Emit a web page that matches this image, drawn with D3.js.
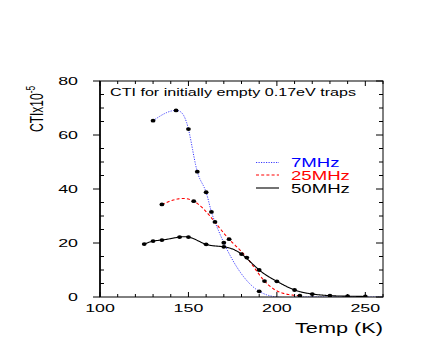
<!DOCTYPE html>
<html><head><meta charset="utf-8">
<script src="https://cdn.jsdelivr.net/npm/d3@7"></script>
<style>html,body{margin:0;padding:0;background:#fff;}svg{display:block;}</style>
</head><body>
<script>
// ---- data ----
const blueT = [130, 143, 150, 155, 160, 163, 165, 170, 190];
const blueV = [65.3, 69.1, 62.2, 46.4, 38.8, 31.5, 27.8, 20.1, 2.1];
const blueTailT = [200, 215, 230, 245, 260];
const blueTailV = [0, 0, 0, 0, 0];
const redT = [135, 153, 173, 183, 193, 213];
const redV = [34.3, 35.5, 21.4, 14.6, 5.9, 0.5];
const blackT = [125, 130, 135, 145, 150, 160, 170, 180, 190, 200, 210, 220, 230, 240, 250];
const blackV = [19.6, 20.7, 21.1, 22.2, 22.2, 19.5, 18.6, 15.9, 10.0, 5.8, 2.6, 1.1, 0.5, 0.3, 0.2];
const seriesNames = ["7MHz", "25MHz", "50MHz"];
const xMajor = [100, 150, 200, 250];
const yMajor = [0, 20, 40, 60, 80];
const title = "CTI for initially empty 0.17eV traps";
const xTitle = "Temp (K)";

const W = 436, H = 354, SX = 1.55;
const FONT = "'Liberation Sans', Arial, Helvetica, sans-serif";
const x = d3.scaleLinear().domain([100, 260]).range([100, 383]);
const y = d3.scaleLinear().domain([0, 80]).range([297, 81]);

const svg = d3.select("body").append("svg").attr("width", W).attr("height", H);
svg.append("defs").append("clipPath").attr("id", "clip")
  .append("rect").attr("x", 100).attr("y", 81).attr("width", 283).attr("height", 216);

// natural cubic spline y(x)
function spline(xs, ys) {
  const n = xs.length, h = [], a = [], l = [1], mu = [0], z = [0], c = new Array(n).fill(0), b = [], d = [];
  for (let i = 0; i < n - 1; i++) h[i] = xs[i + 1] - xs[i];
  for (let i = 1; i < n - 1; i++) a[i] = 3 / h[i] * (ys[i + 1] - ys[i]) - 3 / h[i - 1] * (ys[i] - ys[i - 1]);
  for (let i = 1; i < n - 1; i++) {
    l[i] = 2 * (xs[i + 1] - xs[i - 1]) - h[i - 1] * mu[i - 1];
    mu[i] = h[i] / l[i];
    z[i] = (a[i] - h[i - 1] * z[i - 1]) / l[i];
  }
  z[n - 1] = 0;
  for (let j = n - 2; j >= 0; j--) {
    c[j] = z[j] - mu[j] * c[j + 1];
    b[j] = (ys[j + 1] - ys[j]) / h[j] - h[j] * (c[j + 1] + 2 * c[j]) / 3;
    d[j] = (c[j + 1] - c[j]) / (3 * h[j]);
  }
  const pts = [];
  for (let j = 0; j < n - 1; j++) {
    const steps = Math.max(4, Math.round(h[j] * 3));
    for (let k = 0; k < steps; k++) {
      const t = h[j] * k / steps;
      pts.push([xs[j] + t, ys[j] + b[j] * t + c[j] * t * t + d[j] * t * t * t]);
    }
  }
  pts.push([xs[n - 1], ys[n - 1]]);
  return pts;
}

const line = d3.line().x(d => x(d[0])).y(d => y(d[1]));
const plot = svg.append("g").attr("clip-path", "url(#clip)");

const series = [
  {T: blueT.concat(blueTailT), V: blueV.concat(blueTailV), mT: blueT, mV: blueV, color: "#3a3aff", dash: "1.2,1.3", w: 1},
  {T: redT, V: redV, mT: redT, mV: redV, color: "#ff0000", dash: "3,2.2", w: 1.1},
  {T: blackT, V: blackV, mT: blackT, mV: blackV, color: "#000", dash: null, w: 1.1}
];
series.forEach(s => {
  plot.append("path").attr("d", line(spline(s.T, s.V)))
    .attr("fill", "none").attr("stroke", s.color).attr("stroke-width", s.w)
    .attr("stroke-dasharray", s.dash);
});
series.forEach(s => {
  plot.selectAll(null).data(s.mT.map((t, i) => [t, s.mV[i]])).enter().append("ellipse")
    .attr("cx", d => x(d[0])).attr("cy", d => y(d[1])).attr("rx", 2.4).attr("ry", 1.9).attr("fill", "#000");
});

// frame & ticks
const ax = svg.append("g").attr("stroke", "#000").attr("stroke-width", 1);
ax.append("rect").attr("x", 100).attr("y", 81).attr("width", 283).attr("height", 216).attr("fill", "none");
ax.append("line").attr("x1", 100).attr("x2", 100).attr("y1", 81).attr("y2", 297).attr("stroke-width", 1.6);
const xMinor = d3.range(100, 261, 10);
xMinor.forEach(v => {
  const big = xMajor.includes(v), L = big ? 5 : 3;
  ax.append("line").attr("x1", x(v)).attr("x2", x(v)).attr("y1", 297).attr("y2", 297 - L);
  ax.append("line").attr("x1", x(v)).attr("x2", x(v)).attr("y1", 81).attr("y2", 81 + L);
});
const yMinor = d3.range(0, 81, 5);
yMinor.forEach(v => {
  const big = yMajor.includes(v);
  if (big) {
    ax.append("line").attr("x1", 93).attr("x2", 100).attr("y1", y(v)).attr("y2", y(v));
    ax.append("line").attr("x1", 383).attr("x2", 376).attr("y1", y(v)).attr("y2", y(v));
  } else {
    ax.append("line").attr("x1", 100).attr("x2", 104).attr("y1", y(v)).attr("y2", y(v));
    ax.append("line").attr("x1", 383).attr("x2", 379).attr("y1", y(v)).attr("y2", y(v));
  }
});

function txt(px, py, s, size, anchor, rot) {
  const g = svg.append("g").attr("transform", `translate(${px},${py}) scale(${SX},1)` + (rot ? ` rotate(${rot})` : ""));
  return g.append("text").attr("x", 0).attr("y", 0).attr("font-family", FONT).attr("font-size", size)
    .attr("text-anchor", anchor).attr("fill", "#000").text(s);
}
xMajor.forEach(v => txt(x(v), 311.5, String(v), 11.5, "middle"));
yMajor.forEach(v => txt(78, y(v) + 4, String(v), 11.5, "end"));
txt(383, 333, xTitle, 14, "end");
txt(110, 96, title, 10.4, "start");
// y title rotated
const yt = txt(43, 132, "CTIx10", 12, "start", -90);
yt.append("tspan").attr("dy", -5).attr("font-size", 8.5).text("-5");

// legend
const legY = [162.5, 175, 188];
series.forEach((s, i) => {
  svg.append("line").attr("x1", 256).attr("x2", 279).attr("y1", legY[i]).attr("y2", legY[i])
    .attr("stroke", s.color).attr("stroke-width", s.w).attr("stroke-dasharray", s.dash);
  txt(291, legY[i] + 4.5, seriesNames[i], 12, "start").attr("fill", s.color === "#3a3aff" ? "#0000ff" : s.color);
});
</script>
</body></html>
